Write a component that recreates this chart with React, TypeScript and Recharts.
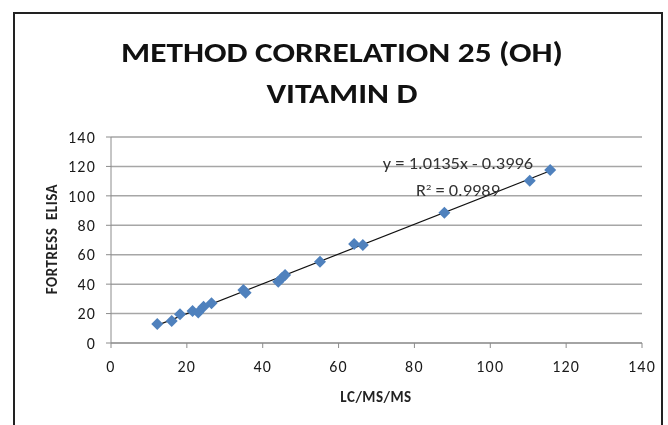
import React from "react";
import {
  ScatterChart,
  Scatter,
  XAxis,
  YAxis,
  CartesianGrid,
} from "recharts";

const lcmsms = [12.2, 16, 18.2, 21.5, 23, 24.4, 26.5, 34.9, 35.5, 44.1, 45, 45.9, 55.1, 64.1, 66.4, 87.9, 110.4, 115.8];
const fortressElisa = [12.9, 15, 19.5, 21.7, 20.8, 24.7, 27, 36, 34.2, 41.7, 44, 46.2, 55.3, 67.3, 66.6, 88.6, 110.3, 117.6];
const trendX = [12, 116];
const trendY = [11.8, 117.2];
const ticks = [0, 20, 40, 60, 80, 100, 120, 140];

const points = lcmsms.map((x, i) => ({ x, y: fortressElisa[i] }));
const trend = trendX.map((x, i) => ({ x, y: trendY[i] }));

const font = "Calibri, 'Open Sans', sans-serif";
const tickStyle = { fill: "#1a1a1a", fontSize: 16, fontFamily: font, letterSpacing: 1.2 };

const Diamond = (props: any) => {
  const { cx, cy } = props;
  const r = 6;
  return (
    <polygon
      points={`${cx},${cy - r} ${cx + r},${cy} ${cx},${cy + r} ${cx - r},${cy}`}
      fill="#4f81bd"
    />
  );
};

const App = () => {
  return (
    <div style={{ position: "fixed", left: 0, top: 0, width: 668, height: 425, background: "#fff", fontFamily: font }}>
      <div style={{ position: "absolute", left: 13, top: 12, width: 650, height: 430, border: "2px solid #222", boxSizing: "border-box" }} />
      <div style={{ position: "absolute", left: 42, top: 32, width: 600, textAlign: "center", fontSize: 28, fontWeight: 700, lineHeight: "41px", color: "#111", transform: "scaleX(1.19)" }}>
        METHOD CORRELATION 25 (OH)
        <br />
        VITAMIN D
      </div>
      <ScatterChart width={668} height={425} margin={{ top: 137, right: 26, bottom: 52, left: 61 }}>
        <CartesianGrid vertical={false} stroke="#a6a6a6" strokeWidth={1.5} />
        <XAxis
          type="number"
          dataKey="x"
          domain={[0, 140]}
          ticks={ticks}
          height={30}
          stroke="#8c8c8c"
          tickSize={5}
          tickMargin={13}
          tick={tickStyle}
        />
        <YAxis
          type="number"
          dataKey="y"
          domain={[0, 140]}
          ticks={ticks}
          width={50}
          stroke="#8c8c8c"
          tickSize={5}
          tickMargin={10}
          tick={tickStyle}
        />
        <Scatter data={trend} line={{ stroke: "#111", strokeWidth: 1.2 }} shape={() => null} isAnimationActive={false} />
        <Scatter data={points} shape={<Diamond />} isAnimationActive={false} />
      </ScatterChart>
      <div style={{ position: "absolute", left: 358, top: 152, width: 200, textAlign: "center", fontSize: 16, color: "#333", lineHeight: "23px", transform: "scaleX(1.15)" }}>
        y = 1.0135x - 0.3996
        <br />
        R<sup style={{ fontSize: 9 }}>2</sup> = 0.9989
      </div>
      <div style={{ position: "absolute", left: 276, top: 388, width: 200, textAlign: "center", fontSize: 15, fontWeight: 700, color: "#222", letterSpacing: 0.5 }}>
        LC/MS/MS
      </div>
      <div style={{ position: "absolute", left: 52, top: 240, width: 200, marginLeft: -100, marginTop: -10, textAlign: "center", fontSize: 15, fontWeight: 700, color: "#222", transform: "rotate(-90deg)", whiteSpace: "pre", letterSpacing: 0.5 }}>
        {"FORTRESS  ELISA"}
      </div>
    </div>
  );
};

export default App;
